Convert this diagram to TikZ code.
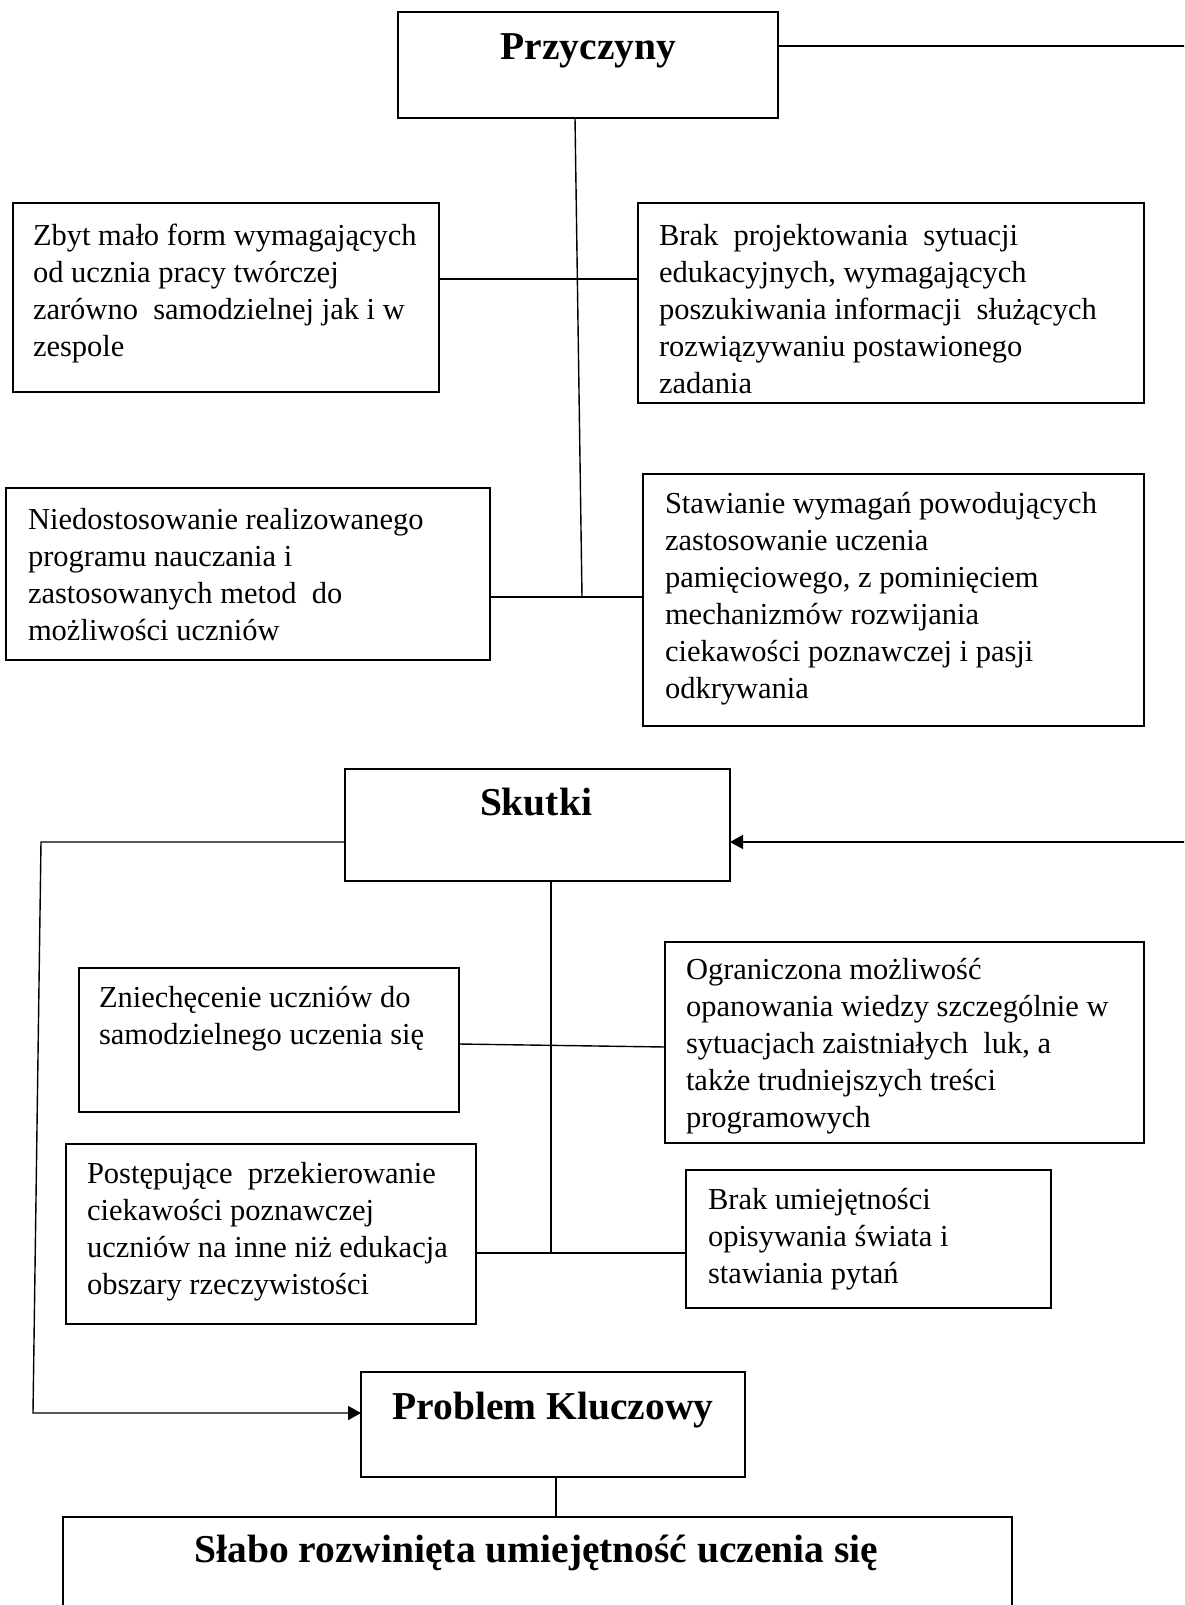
\documentclass[tikz,border=0pt]{standalone}
\usepackage{fontspec}
\setmainfont{Liberation Serif}
\usetikzlibrary{arrows.meta}
\tikzset{
  box/.style={draw=black, line width=1.8pt, inner sep=0pt, outer sep=0pt, fill=none},
  conn/.style={draw=black, line width=1.4pt},
  arr/.style={conn, -{Triangle[length=13pt,width=14pt]}},
  body/.style={anchor=base west, align=left, inner sep=0pt, outer sep=0pt,
    font=\fontsize{30.5}{37}\selectfont},
  title/.style={anchor=base, inner sep=0pt, outer sep=0pt,
    font=\fontsize{39.5}{46}\selectfont\bfseries}
}
\begin{document}
\begin{tikzpicture}[x=1pt, y=-1pt]
\path[use as bounding box, clip] (0,0) rectangle (1184,1605);
\fill[white] (0,0) rectangle (1184,1605);

% boxes
\node[box, minimum width=380, minimum height=106] (przy) at (588,65) {};
\node[box, minimum width=426, minimum height=189] (b1) at (226,297.5) {};
\node[box, minimum width=506, minimum height=200] (b2) at (891,303) {};
\node[box, minimum width=484, minimum height=172] (b3) at (248,574) {};
\node[box, minimum width=501, minimum height=252] (b4) at (893.5,600) {};
\node[box, minimum width=385, minimum height=112] (skut) at (537.5,825) {};
\node[box, minimum width=380, minimum height=144] (b5) at (269,1040) {};
\node[box, minimum width=479, minimum height=201] (b6) at (904.5,1042.5) {};
\node[box, minimum width=410, minimum height=180] (b7) at (271,1234) {};
\node[box, minimum width=365, minimum height=138] (b8) at (868.5,1239) {};
\node[box, minimum width=384, minimum height=105] (prob) at (553,1424.5) {};
\node[box, minimum width=949, minimum height=123] (fin) at (537.5,1578.5) {};

% titles
\node[title] (tprzy) at (588.5,60) {Przyczyny};
\node[title] (tskut) at (536,815) {Skutki};
\node[title] (tprob) at (553,1419) {Problem Kluczowy};
\node[title] (tfin) at (536.5,1562) {Słabo rozwinięta umiejętność uczenia się};

% body texts (anchor = baseline of the last line)
\node[body] (x1) at (33,356) {Zbyt mało form wymagających\\od ucznia pracy twórczej\\zarówno\ \ samodzielnej jak i w\\zespole};
\node[body] (x2) at (659,393) {Brak\ \ projektowania\ \ sytuacji\\edukacyjnych, wymagających\\poszukiwania informacji\ \ służących\\rozwiązywaniu postawionego\\zadania};
\node[body] (x3) at (28,640) {Niedostosowanie realizowanego\\programu nauczania i\\zastosowanych metod\ \ do\\możliwości uczniów};
\node[body] (x4) at (665,698) {Stawianie wymagań powodujących\\zastosowanie uczenia\\pamięciowego, z pominięciem\\mechanizmów rozwijania\\ciekawości poznawczej i pasji\\odkrywania};
\node[body] (x5) at (99,1044) {Zniechęcenie uczniów do\\samodzielnego uczenia się};
\node[body] (x6) at (686,1127) {Ograniczona możliwość\\opanowania wiedzy szczególnie w\\sytuacjach zaistniałych\ \ luk, a\\także trudniejszych treści\\programowych};
\node[body] (x7) at (87,1294) {Postępujące\ \ przekierowanie\\ciekawości poznawczej\\uczniów na inne niż edukacja\\obszary rzeczywistości};
\node[body] (x8) at (708,1283) {Brak umiejętności\\opisywania świata i\\stawiania pytań};

% junction coordinates
\coordinate (rE1) at (1190,46);
\coordinate (rE2) at (1190,842);
\coordinate (j1) at (582,597);
\coordinate (j2) at (551,1253);
\coordinate (cL1) at (41,842);
\coordinate (cL2) at (33,1413);

% connectors
\draw[conn] (przy.east |- rE1) -- (rE1);
\draw[conn] ([xshift=-13pt]przy.south) -- (j1);
\draw[conn] (b1.east |- 0,279) -- (b2.west |- 0,279);
\draw[conn] (b3.east |- j1) -- (b4.west |- j1);
\draw[arr] (rE2) -- (skut.east |- rE2);
\draw[arr] (skut.west |- rE2) -- (cL1) -- (cL2) -- (prob.west |- cL2);
\draw[conn] (skut.south -| j2) -- (j2);
\draw[conn] (b5.east |- 0,1044) -- (b6.west |- 0,1047);
\draw[conn] (b7.east |- j2) -- (b8.west |- j2);
\draw[conn] ([xshift=3pt]prob.south) -- ([xshift=3pt]prob.south |- fin.north);
\end{tikzpicture}
\end{document}
